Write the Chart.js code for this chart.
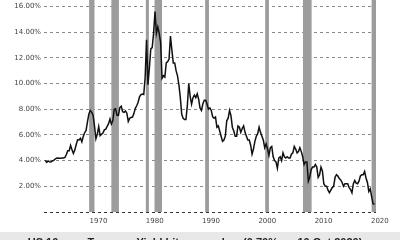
<!DOCTYPE html>
<html>
<head>
<meta charset="utf-8">
<script src="https://cdn.jsdelivr.net/npm/chart.js@4"></script>
<style>
  html, body { margin: 0; padding: 0; background: #fff; overflow: hidden; }
  #wrap { width: 400px; height: 240px; overflow: hidden;
          background: linear-gradient(#fff 232px, #e8e8e8 232px); }
  canvas { display: block; }
</style>
</head>
<body>
<div id="wrap"><canvas id="myChart" width="400" height="252"></canvas></div>
<script>
// US 10-year treasury yield, quarterly, starting 1962
const startYear = 1962;
const yields = [
  4.02, 3.87, 3.98, 3.90,   // 1962
  3.89, 3.97, 4.02, 4.12,
  4.19, 4.20, 4.19, 4.18,
  4.20, 4.21, 4.25, 4.47,
  4.77, 4.77, 5.18, 4.84,
  4.56, 4.82, 5.25, 5.62,
  5.61, 5.74, 5.46, 5.88,
  6.17, 6.35, 7.02, 7.63,
  7.90, 7.75, 7.54, 6.69,   // 1970
  5.70, 6.07, 6.64, 5.95,
  6.06, 6.15, 6.39, 6.45,
  6.67, 6.87, 7.24, 6.84,
  7.09, 7.99, 8.03, 7.53,
  7.52, 8.12, 8.23, 7.80,
  7.75, 7.87, 7.69, 7.05,
  7.29, 7.36, 7.39, 7.66,
  8.07, 8.27, 8.54, 8.96,
  9.13, 9.18, 9.14, 10.44,
  13.40, 9.90, 11.20, 12.70, // 1980
  12.80, 13.90, 15.60, 13.90,
  14.40, 13.90, 13.20, 10.40,
  10.60, 10.50, 11.60, 11.70,
  11.90, 13.70, 12.60, 11.60,
  11.60, 11.00, 10.60, 9.90,
  8.90, 7.60, 7.30, 7.20,
  7.20, 8.30, 10.00, 9.00,
  8.40, 8.90, 9.10, 8.90,
  9.20, 8.80, 8.10, 7.90,
  8.40, 8.70, 8.70, 8.40,   // 1990
  8.00, 8.10, 7.90, 7.40,
  7.30, 7.40, 6.60, 6.70,
  6.30, 5.90, 5.50, 5.60,
  5.90, 7.10, 7.30, 7.90,
  7.50, 6.60, 6.30, 5.90,
  5.90, 6.70, 6.60, 6.20,
  6.50, 6.70, 6.20, 5.90,
  5.60, 5.60, 5.20, 4.50,
  4.90, 5.50, 5.90, 6.10,
  6.60, 6.20, 5.90, 5.60,   // 2000
  5.00, 5.30, 4.90, 4.40,
  5.00, 5.10, 4.30, 4.00,
  3.90, 3.40, 4.20, 4.30,
  4.00, 4.60, 4.30, 4.20,
  4.30, 4.20, 4.20, 4.50,
  4.60, 5.10, 4.90, 4.60,
  4.70, 5.00, 4.70, 4.30,
  3.70, 3.90, 3.90, 2.40,
  2.70, 3.30, 3.50, 3.50,
  3.70, 3.50, 2.70, 2.90,   // 2010
  3.50, 3.20, 2.20, 2.00,
  2.00, 1.70, 1.50, 1.70,
  1.90, 2.00, 2.70, 2.90,
  2.80, 2.60, 2.50, 2.30,
  2.00, 2.20, 2.20, 2.20,
  1.90, 1.75, 1.50, 2.20,
  2.45, 2.25, 2.20, 2.40,
  2.80, 2.90, 2.90, 3.15,
  2.65, 2.30, 1.60, 1.80,
  1.20, 0.65, 0.60           // 2020
];
const recessions = [
  [1969.92, 1970.87], [1973.87, 1975.21], [1980.0, 1980.54],
  [1981.54, 1982.87], [1990.54, 1991.21], [2001.21, 2001.87],
  [2007.92, 2009.46], [2020.12, 2020.9]
];
const xMin = 1961.9, xMax = 2020.9;
const yTicksMax = 16.5;
const title = 'US 10-year Treasury Yield hits a new low (0.70% on 10 Oct 2020)';

const points = yields.map((v, i) => ({ x: startYear + i * 0.25 + 0.125, y: v }));

const recessionBands = {
  id: 'recessionBands',
  beforeDatasetsDraw(chart) {
    const { ctx, chartArea, scales } = chart;
    ctx.save();
    ctx.fillStyle = '#9c9c9c';
    recessions.forEach(([s, e]) => {
      const x1 = scales.x.getPixelForValue(s);
      const x2 = Math.min(scales.x.getPixelForValue(e), chartArea.right);
      ctx.fillRect(x1, 0, x2 - x1, chartArea.bottom);
    });
    ctx.restore();
  }
};

const ctx = document.getElementById('myChart');

new Chart(ctx, {
  type: 'line',
  data: {
    datasets: [{
      data: points,
      borderColor: '#111',
      borderWidth: 1.5,
      pointRadius: 0,
      tension: 0
    }]
  },
  options: {
    responsive: false,
    animation: false,
    layout: { padding: { left: 0, right: 10, top: 0, bottom: 2.4 } },
    plugins: {
      legend: { display: false },
      tooltip: { enabled: false },
      title: {
        display: true,
        position: 'bottom',
        text: title,
        color: '#222',
        font: { family: 'Liberation Sans', size: 11, weight: 'bold' },
        padding: { top: 8.4, bottom: 0 }
      }
    },
    scales: {
      x: {
        type: 'linear',
        min: xMin,
        max: xMax,
        grid: { display: false, drawTicks: false },
        border: { display: false },
        ticks: {
          stepSize: 10,
          includeBounds: false,
          align: 'start',
          padding: 5,
          maxRotation: 0,
          color: '#444',
          font: { family: 'DejaVu Sans', size: 7 },
          callback: v => String(v)
        },
        afterFit(scale) {
          scale.height = 16;
          scale.paddingLeft = 0;
          scale.paddingRight = 24;
        }
      },
      y: {
        min: 0,
        max: yTicksMax,
        grid: {
          drawTicks: false,
          color: c => c.tick.value === 0 ? '#333' : '#8a8a8a'
        },
        border: { display: false, dash: [3, 3] },
        ticks: {
          stepSize: 2,
          includeBounds: false,
          padding: 3,
          color: '#444',
          font: { family: 'DejaVu Sans', size: 7 },
          callback: v => v === 0 ? '' : v.toFixed(2) + '%'
        },
        afterFit(scale) {
          scale.width = 44;
          scale.paddingTop = 0;
          scale.paddingBottom = 0;
        }
      }
    }
  },
  plugins: [recessionBands]
});
</script>
</body>
</html>
